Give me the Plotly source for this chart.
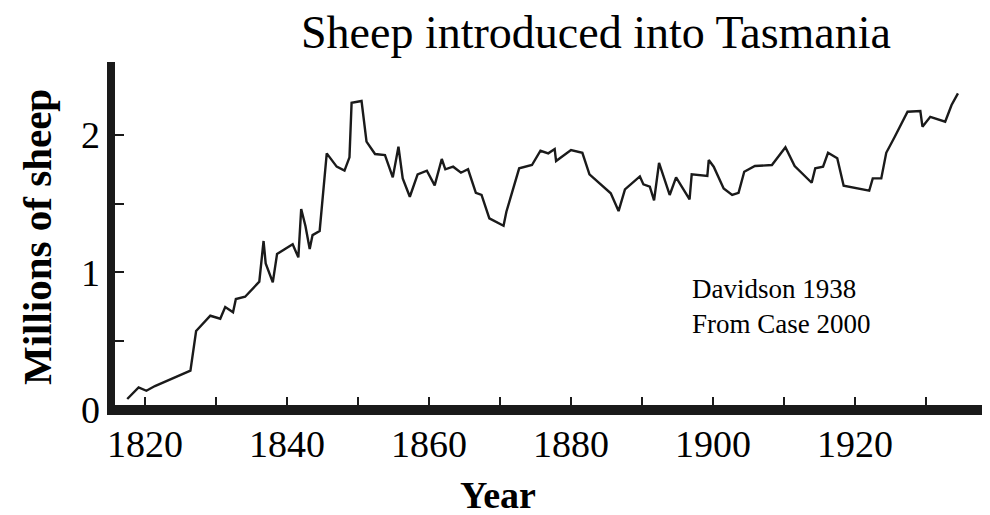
import plotly.graph_objects as go

# Data (year, millions of sheep)
years = [
    1817.5, 1819.1, 1820.2, 1821.4, 1826.4, 1827.2, 1829.2, 1830.6, 1831.3, 1832.4,
    1832.8, 1834.1, 1836.1, 1836.7, 1837.0, 1838.0, 1838.6, 1840.8, 1841.6, 1842.0,
    1842.6, 1843.2, 1843.6, 1844.6, 1845.6, 1847.0, 1848.1, 1848.8, 1849.1, 1850.5,
    1851.2, 1852.4, 1853.8, 1854.9, 1855.7, 1856.3, 1857.3, 1858.4, 1859.7, 1860.8,
    1861.8, 1862.3, 1863.4, 1864.5, 1865.5, 1866.6, 1867.4, 1868.5, 1870.5, 1870.9,
    1872.7, 1874.5, 1875.7, 1876.8, 1877.7, 1877.9, 1880.0, 1881.6, 1882.6, 1885.6,
    1886.7, 1887.6, 1889.7, 1890.2, 1891.1, 1891.7, 1892.4, 1893.9, 1894.8, 1896.7,
    1897.0, 1899.2, 1899.4, 1900.1, 1901.5, 1902.7, 1903.6, 1904.4, 1905.9, 1908.3,
    1910.2, 1911.5, 1913.9, 1914.4, 1915.5, 1916.2, 1917.5, 1918.4, 1922.0, 1922.5,
    1923.7, 1924.4, 1925.6, 1927.4, 1929.2, 1929.5, 1930.6, 1932.7, 1933.6, 1934.5,
]
sheep_millions = [
    0.078, 0.163, 0.138, 0.172, 0.284, 0.573, 0.684, 0.662, 0.747, 0.709,
    0.806, 0.822, 0.932, 1.228, 1.065, 0.927, 1.133, 1.204, 1.109, 1.461,
    1.337, 1.170, 1.271, 1.301, 1.866, 1.769, 1.740, 1.837, 2.234, 2.247,
    1.951, 1.861, 1.854, 1.691, 1.914, 1.684, 1.550, 1.713, 1.740, 1.633,
    1.825, 1.750, 1.769, 1.725, 1.750, 1.579, 1.563, 1.393, 1.339, 1.441,
    1.757, 1.781, 1.885, 1.866, 1.897, 1.810, 1.890, 1.870, 1.713, 1.575,
    1.446, 1.604, 1.698, 1.640, 1.624, 1.524, 1.796, 1.563, 1.691, 1.531,
    1.713, 1.701, 1.817, 1.769, 1.611, 1.563, 1.579, 1.732, 1.774, 1.781,
    1.910, 1.774, 1.652, 1.757, 1.769, 1.870, 1.830, 1.630, 1.594, 1.684,
    1.684, 1.870, 1.987, 2.169, 2.174, 2.060, 2.132, 2.096, 2.218, 2.303,
]
assert len(years) == len(sheep_millions)

x_tick_vals = [1820, 1830, 1840, 1850, 1860, 1870, 1880, 1890, 1900, 1910, 1920, 1930]
x_tick_text = ["1820", "", "1840", "", "1860", "", "1880", "", "1900", "", "1920", ""]
y_tick_vals = [0, 0.5, 1, 1.5, 2]
y_tick_text = ["0", "", "1", "", "2"]

title_text = "Sheep introduced into Tasmania"
x_title = "Year"
y_title = "Millions of sheep"
source_lines = ["Davidson 1938", "From Case 2000"]

SERIF = "Liberation Serif, Times New Roman, serif"
INK = "#1a1a1a"

fig = go.Figure()
fig.add_trace(go.Scatter(
    x=years, y=sheep_millions, mode="lines",
    line=dict(color=INK, width=2.4),
    showlegend=False, hoverinfo="x+y",
))

# The page body has an 8px margin, so the figure is 8px smaller and every
# reference pixel position below is shifted by OFF.
OFF = 8
W, H = 990 - OFF, 515 - OFF
L, T = 107 - OFF, 62 - OFF
PR, PB = 987 - OFF, 415 - OFF  # plot right / bottom edges in figure pixels
R, B = W - PR, H - PB
pw, ph = PR - L, PB - T


def px_x(p):
    """reference-screen x pixel -> paper coordinate"""
    return (p - OFF - L) / pw


def px_y(p):
    """reference-screen y pixel -> paper coordinate"""
    return (PB - (p - OFF)) / ph


fig.update_layout(
    width=W, height=H,
    margin=dict(l=L, r=R, t=T, b=B, pad=0),
    paper_bgcolor="white", plot_bgcolor="white",
    font=dict(family=SERIF, color="black"),
    title=dict(
        text=title_text, font=dict(family=SERIF, size=46, color="black"),
        x=(596 - OFF) / W, xanchor="center", xref="container",
        y=1 - (32 - OFF) / H, yanchor="middle", yref="container",
    ),
    xaxis=dict(
        range=[1814.65, 1938.59], showgrid=False, zeroline=False, showline=False,
        tickmode="array", tickvals=x_tick_vals, ticktext=x_tick_text,
        ticks="inside", ticklen=18, tickwidth=2, tickcolor=INK,
        tickfont=dict(family=SERIF, size=38, color="black"),
        ticklabelstandoff=3,
    ),
    yaxis=dict(
        range=[-0.0386, 2.531], showgrid=False, zeroline=False, showline=False,
        tickmode="array", tickvals=y_tick_vals, ticktext=y_tick_text,
        ticks="inside", ticklen=17, tickwidth=2, tickcolor=INK,
        tickfont=dict(family=SERIF, size=38, color="black"),
        ticklabelstandoff=6,
    ),
    shapes=[
        # thick left axis bar
        dict(type="rect", xref="paper", yref="paper",
             x0=0, x1=px_x(115), y0=0, y1=1,
             fillcolor=INK, line=dict(width=0), layer="above"),
        # thick bottom axis bar
        dict(type="rect", xref="paper", yref="paper",
             x0=0, x1=1, y0=0, y1=px_y(405),
             fillcolor=INK, line=dict(width=0), layer="above"),
    ],
    annotations=[
        dict(text="<b>" + x_title + "</b>", xref="paper", yref="paper",
             x=px_x(498), y=px_y(495), xanchor="center", yanchor="middle",
             showarrow=False, font=dict(family=SERIF, size=38, color="black")),
        dict(text="<b>" + y_title + "</b>", xref="paper", yref="paper",
             x=px_x(37), y=px_y(237), xanchor="center", yanchor="middle",
             textangle=-90, showarrow=False,
             font=dict(family=SERIF, size=41, color="black")),
        dict(text="<br>".join(source_lines), xref="paper", yref="paper",
             x=px_x(690), y=px_y(306), xanchor="left", yanchor="middle",
             align="left", showarrow=False,
             font=dict(family=SERIF, size=27, color="black")),
    ],
)

fig.write_html("out.html")
